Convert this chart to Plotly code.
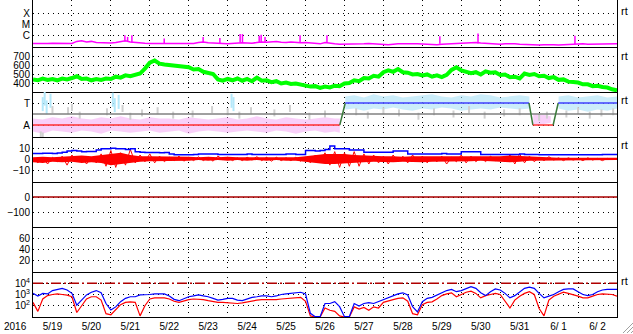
import numpy as np
import plotly.graph_objects as go
from plotly.subplots import make_subplots

# ---------------- data (time = days since 2016-05-19 00:00 UT) ----------------
N_SAMPLES = 121
t = np.arange(N_SAMPLES) * 0.125          # 3-hour samples
t6 = np.arange(61) * 0.25                 # 6-hour samples

day_labels = ["5/19", "5/20", "5/21", "5/22", "5/23", "5/24", "5/25", "5/26",
              "5/27", "5/28", "5/29", "5/30", "5/31", "6/ 1", "6/ 2"]
day_centers = [i + 0.5 for i in range(15)]

# GOES X-ray flux, log10(W/m2) baseline
xray_log = [-6.68, -6.7, -6.68, -6.68, -6.66, -6.68, -6.7, -6.68,
            -6.68, -6.5, -6.45, -6.55, -6.5, -6.6, -6.62, -6.64,
            -6.64, -6.6, -6.5, -6.45, -6.55, -6.6, -6.65, -6.66,
            -6.68, -6.68, -6.66, -6.68, -6.7, -6.68, -6.66, -6.68,
            -6.66, -6.68, -6.6, -6.55, -6.62, -6.66, -6.64, -6.68,
            -6.7, -6.66, -6.6, -6.62, -6.64, -6.66, -6.6, -6.55,
            -6.58, -6.55, -6.52, -6.58, -6.6, -6.55, -6.6, -6.62,
            -6.6, -6.65, -6.7, -6.72, -6.6, -6.68, -6.72, -6.75,
            -6.75, -6.72, -6.7, -6.72, -6.7, -6.68, -6.72, -6.75,
            -6.78, -6.8, -6.75, -6.7, -6.72, -6.75, -6.72, -6.7,
            -6.72, -6.75, -6.78, -6.8, -6.75, -6.72, -6.7, -6.7,
            -6.68, -6.65, -6.62, -6.6, -6.65, -6.68, -6.7, -6.72,
            -6.75, -6.72, -6.7, -6.72, -6.75, -6.78, -6.8, -6.8,
            -6.82, -6.8, -6.78, -6.8, -6.82, -6.8, -6.78, -6.72,
            -6.7, -6.72, -6.75, -6.75, -6.72, -6.75, -6.72, -6.7, -6.72]
# flare spikes: time, base log10, peak log10
xray_spike_t = [2.36, 2.43, 2.54, 3.37, 4.37, 4.80, 5.32, 5.38, 5.81, 5.86, 5.96, 6.86, 7.55, 10.45, 11.43, 13.92]
xray_spike_base = [-6.5, -6.55, -6.6, -6.68, -6.62, -6.66, -6.6, -6.6, -6.55, -6.55, -6.58, -6.6, -6.65, -6.7, -6.68, -6.75]
xray_spike_peak = [-5.95, -6.1, -5.95, -6.25, -6.1, -6.2, -5.85, -5.85, -6.0, -5.9, -6.1, -5.95, -5.95, -6.05, -5.8, -6.0]

# solar wind speed (km/s)
speed = [440, 430, 450, 435, 445, 430, 450, 440,
         455, 475, 445, 450, 430, 445, 435, 450,
         445, 470, 460, 485, 475, 490, 505, 560,
         625, 650, 615, 605, 600, 590, 585, 575,
         575, 550, 555, 525, 515, 500, 440, 425,
         445, 430, 450, 425, 445, 420, 460, 425,
         430, 410, 420, 395, 405, 390, 395, 380,
         375, 360, 365, 345, 360, 350, 370, 365,
         395, 400, 430, 420, 455, 450, 480, 470,
         520, 540, 525, 555, 520, 515, 495, 500,
         485, 495, 470, 485, 465, 490, 545, 575,
         540, 530, 510, 520, 495, 530, 515, 520,
         490, 495, 465, 470, 450, 505, 490, 500,
         475, 480, 455, 465, 435, 440, 415, 410,
         405, 385, 385, 365, 370, 355, 350, 330, 318]

# IMF sector (A = 0, T = 2 on the panel scale)
SECTOR_A, SECTOR_MID, SECTOR_T = 0.0, 1.0, 2.0
sector_t = [0.0, 7.88, 8.02, 12.74, 12.84, 13.36, 13.49, 15.0]
sector_v = [SECTOR_A, SECTOR_A, SECTOR_T, SECTOR_T, SECTOR_A, SECTOR_A, SECTOR_T, SECTOR_T]

# spread of the IMF angle points (6-hour envelopes, panel units)
away1_t = list(t6[0:32]) + [7.88]
away1_hi = [0.6, 0.5, 0.7, 0.6, 0.8, 0.6, 0.5, 0.7, 0.6, 0.8, 0.6, 0.5, 0.7, 0.6, 0.6, 0.5,
            0.7, 0.6, 0.5, 0.6, 0.7, 0.5, 0.6, 0.8, 0.6, 0.5, 0.7, 0.6, 0.5, 0.6, 0.7, 0.6, 0.6]
away1_lo = [-0.6, -0.8, -0.5, -0.6, -0.7, -0.5, -0.6, -0.8, -0.5, -0.6, -0.7, -0.6, -0.5, -0.7, -0.6, -0.5,
            -0.8, -0.6, -0.5, -0.6, -0.7, -0.6, -0.5, -0.6, -0.7, -0.5, -0.6, -0.8, -0.6, -0.5, -0.7, -0.6, -0.7]
toward1_t = [8.02] + list(t6[33:52])
toward1_hi = [2.6, 2.7, 2.5, 2.8, 2.6, 2.7, 2.5, 2.6, 2.7, 2.8, 2.6, 2.5, 2.7, 2.6, 2.8, 2.7, 2.5, 2.6, 2.7, 2.6]
toward1_lo = [1.4, 1.5, 1.3, 1.5, 1.4, 1.6, 1.4, 1.3, 1.5, 1.4, 1.6, 1.5, 1.3, 1.4, 1.5, 1.4, 1.6, 1.5, 1.4, 1.5]
away2_t = [12.85, 13.0, 13.15, 13.3]
away2_hi = [1.0, 0.9, 0.9, 0.8]
away2_lo = [0.1, 0.0, 0.1, 0.2]
toward2_t = list(t6[54:61])
toward2_hi = [2.6, 2.7, 2.5, 2.6, 2.7, 2.5, 2.6]
toward2_lo = [1.5, 1.3, 1.4, 1.2, 1.4, 1.3, 1.5]
toward_extra_t = [0.25, 0.3, 0.35, 0.45, 2.05, 2.1, 2.2, 5.1, 5.15]
toward_extra_v = [1.9, 2.4, 1.6, 2.2, 2.3, 1.8, 2.1, 2.2, 1.9]
gray_t = [0.2, 0.25, 0.5, 0.9, 1.0, 1.2, 1.9, 2.3, 2.5, 2.8, 3.2, 3.6, 4.1, 4.6, 5.0, 5.3, 5.6,
          6.2, 6.6, 7.1, 7.5, 8.3, 8.6, 9.0, 9.4, 9.9, 10.3, 10.8, 11.2, 11.6, 12.1, 12.5,
          13.0, 13.2, 13.7, 14.0, 14.3, 14.6, 14.9]
gray_v = [-0.9, -1.0, 1.4, 1.3, 1.6, 0.9, 1.2, 1.5, 0.8, 1.1, 1.3, 0.9, 1.0, 1.4, 1.2, 0.9, 1.3,
          1.1, 1.5, 0.8, 1.0, 1.2, 0.9, 1.3, 1.1, 0.8, 1.2, 1.0, 1.4, 0.9, 1.1, 1.2,
          0.7, 0.9, 1.0, 1.3, 0.9, 1.1, 1.2]

# IMF Bt (nT), 3-hour
bt = [5.3, 5.3, 5.5, 5.5, 5.3, 5.8, 6.5, 7.5,
      8, 7.5, 7, 7.2, 7.2, 8.5, 9.5, 9.5,
      10, 9.5, 9.5, 9, 9.5, 7, 6.5, 6.3,
      6.3, 6.3, 6, 6.3, 5, 4.3, 4.3, 4.3,
      4.3, 4.5, 5, 5, 5, 4.8, 4.5, 4.5,
      4.5, 4.5, 4.5, 4.5, 4.8, 4.5, 4.5, 4.5,
      4.5, 4.5, 4.5, 4.5, 4.8, 4.8, 4.5, 4.5,
      8, 8, 7.5, 8, 9, 12, 9.5, 9.5,
      9.5, 8.5, 8.5, 8.5, 6.5, 6.5, 6.5, 6.5,
      6.5, 6.5, 7.5, 7.5, 7.5, 5, 5, 5,
      5, 5, 5, 5, 5.3, 5, 5, 5,
      7, 7, 7, 7, 4.5, 4.5, 4.5, 4.5,
      4.5, 4.5, 4.5, 4.5, 5, 4.5, 4.5, 4.5,
      4.3, 4.3, 4.3, 4.3, 4.3, 4.3, 4.3, 4.3,
      4.3, 4.3, 4.3, 4.3, 4.3, 4.5, 4.5, 4.5, 4.5]
# IMF Bz (nT): extremes every 3 h and dense core every 6 h
bz = [1, -3, 2, -4, 2, -2, 3, -5,
      4, -2, 3, -4, 2, -3, 5, -6,
      8, -7, 6, -5, 9, -3, 4, -2,
      5, -3, 3, -2, 2, -1, 3, -1.5,
      2, -1, 2.5, -1, 2, -1.5, 3, 0,
      2, -1, 1.5, -1, 2, -0.5, 2.5, -1,
      2, -1.5, 2, -1, 1.5, -1, 2, -1.5,
      2, -3, 4, -2, 6, -5, 7, -7,
      6, -6, 7, -6, 5, -4, 4, -3,
      3, -4, 4, -2, 3, -3, 4, -2,
      3, -3, 2, -2, 3, -4, 2, -2,
      4, -3, 3, -2, 2, -2, 3, -1,
      2, -1, 4, -4, 5, -3, 3, -2,
      2, -1, 2.5, -0.5, 1.5, -1, 1.5, -0.5,
      1, -1, 1.5, -0.5, 1, -1, 1, 0, 0.5]
bz_core_hi = [2, 2.5, 2, 2.5, 3, 3.5, 3, 4, 5, 6, 4, 3, 3, 3, 2.5, 2.5,
              2.5, 2, 2.5, 2, 2.5, 2, 2, 2.5, 2, 2.5, 2, 2, 3, 4, 5, 5,
              5, 4, 3.5, 3, 3, 3, 2.5, 3, 3, 2.5, 3, 3, 3, 3, 2.5, 2.5,
              3, 3.5, 3, 2.5, 2, 2, 1.5, 1.5, 1.5, 1.5, 1.5, 1.5, 1.5]
bz_core_lo = [-2.5, -3, -2, -2.5, -2, -3, -2.5, -3, -5, -4, -3, -2, -1.5, -1.5, -1, -1,
              -1, -0.5, -1, -0.5, -1, -0.5, -1, -0.5, -1, -0.5, -1, -1, -2, -3, -4, -4,
              -4, -3, -2.5, -2, -2, -2.5, -2, -2, -2.5, -2, -2, -1.5, -1.5, -1.5, -1, -1.5,
              -2, -2.5, -2, -1, -0.5, -0.5, -0.5, -0.5, -0.5, -0.5, -0.5, -0.5, -0.5]

# Dst-type index (nT)
dst_t = [0.0, 15.0]
dst_v = [0, 0]

# particle flux, log10
flux_hi_log = [3.1, 2.87, 3.1, 3.05, 3.35, 3.45, 3.55, 3.4,
               3.1, 2.05, 2.5, 2.96, 3.2, 3.35, 3.15, 2.2,
               1.62, 1.9, 2.36, 2.66, 2.8, 2.8, 2.96, 2.96,
               3.0, 3.05, 3.05, 3.05, 2.87, 2.57, 2.45, 2.66,
               2.8, 2.87, 2.96, 2.87, 2.8, 2.66, 2.5, 2.57,
               2.66, 2.66, 2.5, 2.45, 2.57, 2.75, 2.8, 2.87,
               2.87, 2.8, 2.87, 3.0, 3.05, 3.1, 3.15, 3.2,
               3.05, 1.33, 1.03, 1.03, 2.2, 2.2, 2.36, 1.92,
               1.03, 1.03, 2.2, 1.98, 2.2, 2.27, 2.2, 2.36,
               2.57, 2.75, 2.87, 3.05, 3.15, 2.96, 1.92, 1.45,
               2.36, 2.66, 2.75, 2.96, 3.15, 3.35, 3.45, 3.25,
               3.35, 3.55, 3.7, 3.55, 3.15, 2.9, 3.25, 3.5,
               3.4, 3.1, 2.7, 2.9, 3.25, 3.55, 3.65, 3.55,
               3.1, 2.7, 2.85, 3.0, 3.25, 3.45, 3.5, 3.5,
               3.25, 3.0, 2.9, 3.0, 3.25, 3.4, 3.45, 3.45, 3.45]
flux_lo_log = [2.3, 1.5, 2.6, 2.9, 3.0, 3.05, 3.0, 2.95,
               2.8, 1.4, 2.0, 2.6, 2.8, 2.8, 2.5, 1.3,
               1.2, 1.7, 2.1, 2.3, 2.35, 2.3, 1.1, 2.0,
               2.6, 2.7, 2.7, 2.7, 2.6, 2.4, 2.3, 2.45,
               2.55, 2.6, 2.6, 2.55, 2.45, 2.35, 2.3, 2.3,
               2.25, 2.2, 2.2, 2.25, 2.35, 2.45, 2.5, 2.55,
               2.55, 2.5, 2.55, 2.6, 2.65, 2.7, 2.75, 2.75,
               2.4, 1.1, 1.0, 1.0, 1.8, 1.6, 1.5, 1.1,
               1.0, 1.0, 1.9, 1.7, 1.85, 1.6, 1.9, 1.8,
               2.3, 2.45, 2.55, 2.65, 2.7, 2.4, 1.3, 1.2,
               2.1, 2.3, 2.35, 2.6, 2.9, 3.05, 3.15, 2.8,
               3.0, 3.2, 3.3, 3.1, 2.7, 2.9, 3.0, 3.1,
               3.0, 2.36, 1.8, 2.5, 2.85, 3.1, 3.25, 3.0,
               1.75, 1.1, 2.5, 2.85, 3.05, 3.2, 3.1, 3.0,
               2.85, 2.7, 2.7, 2.85, 3.0, 3.05, 3.05, 3.0, 2.85]
FLUX_ALERT = 1e4

# ---------------- figure ----------------
FONT = "Liberation Sans, Arial, sans-serif"
fig = make_subplots(rows=7, cols=1, shared_xaxes=True, vertical_spacing=0,
                    row_heights=[47, 45, 45, 45, 45, 45, 45])


def line(x, y, color, width, row, shape="linear", dash="solid", opacity=1.0):
    fig.add_trace(go.Scatter(x=x, y=y, mode="lines", opacity=opacity,
                             line=dict(color=color, width=width, shape=shape, dash=dash),
                             hoverinfo="skip", showlegend=False), row=row, col=1)


def band(x, lo, hi, color, row):
    fig.add_trace(go.Scatter(x=list(x) + list(x)[::-1], y=list(hi) + list(lo)[::-1],
                             mode="lines", fill="toself", fillcolor=color,
                             line=dict(width=0, color=color),
                             hoverinfo="skip", showlegend=False), row=row, col=1)


# panel 1: X-ray
line(t, [10 ** v for v in xray_log], "#ff00ff", 1.5, 1)
sx, sy = [], []
for ts, b, p in zip(xray_spike_t, xray_spike_base, xray_spike_peak):
    sx += [ts, ts, None]
    sy += [10 ** b, 10 ** p, None]
fig.add_trace(go.Scatter(x=sx, y=sy, mode="lines", line=dict(color="#ff00ff", width=1.5),
                         hoverinfo="skip", showlegend=False), row=1, col=1)

# panel 2: speed
line(t, speed, "#00ff00", 4, 2)

# panel 3: sector
PINK = "rgba(244,170,244,0.55)"
CYAN = "rgba(160,222,246,0.55)"
band(away1_t, away1_lo, away1_hi, PINK, 3)
band(away2_t, away2_lo, away2_hi, PINK, 3)
band(toward1_t, toward1_lo, toward1_hi, CYAN, 3)
band(toward2_t, toward2_lo, toward2_hi, CYAN, 3)
fig.add_trace(go.Scatter(x=toward_extra_t, y=toward_extra_v, mode="markers",
                         marker=dict(symbol="line-ns", size=10, line=dict(color="#b4e8fa", width=2)),
                         hoverinfo="skip", showlegend=False), row=3, col=1)
fig.add_trace(go.Scatter(x=gray_t, y=gray_v, mode="markers",
                         marker=dict(symbol="line-ns", size=5, line=dict(color="#d0d0d0", width=2)),
                         hoverinfo="skip", showlegend=False), row=3, col=1)
line([0, 15], [SECTOR_MID, SECTOR_MID], "#808080", 1.5, 3)
for i in range(len(sector_t) - 1):
    v0, v1 = sector_v[i], sector_v[i + 1]
    if v0 != v1:
        col = "#3a7a3a"
    elif v0 == SECTOR_T:
        col = "#4040ff"
    else:
        col = "#ff3030"
    line(sector_t[i:i + 2], sector_v[i:i + 2], col, 1.5, 3)

# panel 4: Bt / Bz
line([0, 15], [0, 0], "#cc0000", 1.2, 4)
band(t6, bz_core_lo, bz_core_hi, "#ff0000", 4)
line(t, bz, "#ff0000", 1, 4)
line(t, bt, "#0000ff", 1.5, 4, shape="hv")

# panel 5: index
line(dst_t, dst_v, "#aa0000", 1.5, 5)

# panel 6: no data plotted (keeps the empty frame)
fig.add_trace(go.Scatter(x=[0, 15], y=[None, None], mode="lines",
                         hoverinfo="skip", showlegend=False), row=6, col=1)

# panel 7: particle flux
line([0, 15], [FLUX_ALERT, FLUX_ALERT], "#b00000", 1.5, 7, dash="10px,3px,2px,3px")
line(t, [10 ** v for v in flux_lo_log], "#ff0000", 1.2, 7)
line(t, [10 ** v for v in flux_hi_log], "#0000ff", 1.2, 7)

# ---------------- axes ----------------
DOT = "1px,4px"
TICKFONT = dict(family=FONT, size=10, color="black")
common_y = dict(showline=True, mirror=True, linecolor="black", linewidth=1, ticks="",
                showgrid=True, gridcolor="black", griddash=DOT, gridwidth=1,
                zeroline=False, fixedrange=True, tickfont=TICKFONT)
for r in range(1, 8):
    fig.update_xaxes(range=[0, 15], showgrid=False, zeroline=False, showline=True,
                     linecolor="black", linewidth=1, ticks="", fixedrange=True,
                     tickmode="array", tickvals=day_centers, ticktext=day_labels,
                     tickfont=TICKFONT,
                     minor=dict(tick0=0, dtick=1, showgrid=True, gridcolor="black",
                                griddash=DOT, gridwidth=1, ticks=""),
                     row=r, col=1)
fig.update_xaxes(showticklabels=True, row=7, col=1)

fig.update_yaxes(type="log", range=[-7, -2.82], tickvals=[1e-6, 1e-5, 1e-4],
                 ticktext=["C", "M", "X"], row=1, col=1, **common_y)
fig.update_yaxes(range=[300, 800], tickvals=[400, 500, 600, 700], row=2, col=1, **common_y)
fig.update_yaxes(range=[-1.09, 3.0], tickvals=[SECTOR_A, SECTOR_T], ticktext=["A", "T"],
                 row=3, col=1, **common_y)
fig.update_yaxes(range=[-20, 20], tickvals=[-10, 0, 10], row=4, col=1, **common_y)
fig.update_yaxes(range=[-200, 100], tickvals=[-100, 0], row=5, col=1, **common_y)
fig.update_yaxes(range=[0, 80], tickvals=[20, 40, 60], row=6, col=1, **common_y)
fig.update_yaxes(type="log", range=[1, 5], tickvals=[1e2, 1e3, 1e4],
                 ticktext=["10<sup>2</sup>", "10<sup>3</sup>", "10<sup>4</sup>"],
                 row=7, col=1, **common_y)

# ---------------- annotations ----------------
PLOT_H = 317.0
PLOT_W = 584.0


def py(p):
    return (PLOT_H - p) / PLOT_H


def px(p):
    return (p - 33) / PLOT_W


ann = []
for ypix in [11, 56, 100, 145, 281]:
    ann.append(dict(x=px(619), y=py(ypix), xref="paper", yref="paper", text="rt",
                    showarrow=False, xanchor="left", yanchor="middle",
                    font=dict(family=FONT, size=11, color="black")))
ann.append(dict(x=px(15), y=py(326), xref="paper", yref="paper", text="2016",
                showarrow=False, xanchor="center", yanchor="middle",
                font=dict(family=FONT, size=10, color="black")))

shapes = []
for off in [0, 4, 8]:
    shapes.append(dict(type="line", xref="paper", yref="paper",
                       x0=px(633 - 10 + off), y0=py(333), x1=px(633), y1=py(333 - 10 + off),
                       line=dict(color="#a0a0a0", width=1)))

fig.update_layout(width=633, height=334, margin=dict(l=33, r=16, t=0, b=17),
                  paper_bgcolor="white", plot_bgcolor="white", showlegend=False,
                  annotations=ann, shapes=shapes,
                  font=dict(family=FONT, size=10, color="black"))

fig.write_html("out.html")
